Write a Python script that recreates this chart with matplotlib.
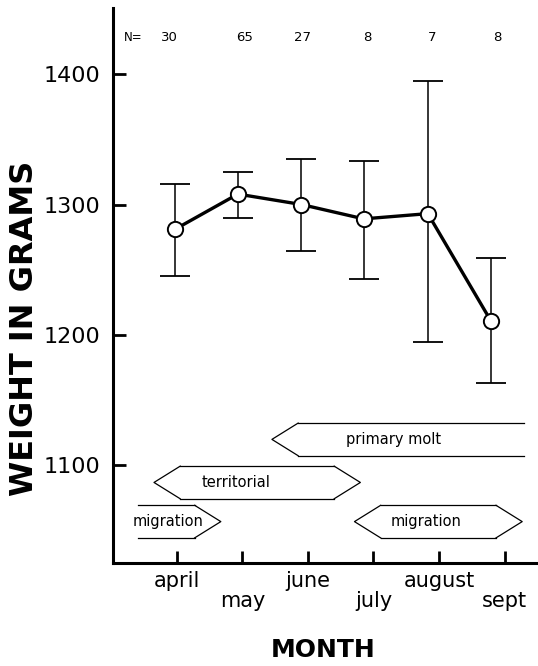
import matplotlib
matplotlib.use("Agg")
import matplotlib.pyplot as plt

# ---- data ----
months = ["april", "may", "june", "july", "august", "sept"]
sample_month = [-0.03, 0.93, 1.90, 2.85, 3.83, 4.79]
mean_weight = [1281, 1308, 1300, 1289, 1293, 1211]
upper = [1316, 1325, 1335, 1333, 1395, 1259]
lower = [1245, 1290, 1264, 1243, 1195, 1163]
n_counts = [30, 65, 27, 8, 7, 8]

periods = ["migration", "territorial", "primary molt", "migration"]
period_start = [-0.60, -0.35, 1.45, 2.71]
period_end = [0.67, 2.80, 5.29, 5.27]
closed_left = [False, True, True, True]
closed_right = [True, True, False, True]
period_row = [1057, 1087, 1120, 1057]

# ---- layout ----
n_label_x = [-0.12, 1.04, 1.92, 2.90, 3.89, 4.89]
period_text_x = [-0.14, 0.91, 3.30, 3.81]
tip = 0.40
half_h = 12.5

fig = plt.figure(figsize=(5.38, 6.66), dpi=100)
ax = fig.add_axes([0.210, 0.1547, 0.789, 0.8333])
ax.set_xlim(-0.976, 5.503)
ax.set_ylim(1025.3, 1450.6)

for s in ["top", "right"]:
    ax.spines[s].set_visible(False)
for s in ["left", "bottom"]:
    ax.spines[s].set_linewidth(2.2)

# error bars
ax.errorbar(sample_month, mean_weight,
            yerr=[[m - l for m, l in zip(mean_weight, lower)],
                  [u - m for m, u in zip(mean_weight, upper)]],
            fmt="none", ecolor="black", elinewidth=1.1, capsize=11, capthick=1.3, zorder=2)
ax.plot(sample_month, mean_weight, color="black", lw=2.4, zorder=3)
ax.plot(sample_month, mean_weight, "o", ms=11, mfc="white", mec="black", mew=1.4, zorder=4)

# N labels
ax.text(-0.67, 1428, "N=", fontsize=8.5, ha="center", va="center")
for x, n in zip(n_label_x, n_counts):
    ax.text(x, 1428, str(n), fontsize=9.5, ha="center", va="center")

# period arrows
for name, s, e, cl, cr, yc, tx in zip(periods, period_start, period_end,
                                     closed_left, closed_right, period_row, period_text_x):
    top = yc + half_h
    bot = yc - half_h
    xl = s + tip if cl else s
    xr = e - tip if cr else e
    ax.plot([xl, xr], [top, top], color="black", lw=0.9)
    ax.plot([xl, xr], [bot, bot], color="black", lw=0.9)
    if cl:
        ax.plot([xl, s, xl], [top, yc, bot], color="black", lw=0.9)
    if cr:
        ax.plot([xr, e, xr], [top, yc, bot], color="black", lw=0.9)
    ax.text(tx, yc, name, fontsize=10.5, ha="center", va="center")

# axes ticks
ax.set_yticks([1100, 1200, 1300, 1400])
ax.set_yticklabels(["1100", "1200", "1300", "1400"], fontsize=16)
ax.tick_params(axis="y", direction="in", length=9, width=2, pad=9)
ax.set_xticks(range(len(months)))
ax.set_xticklabels([m if i % 2 == 0 else "\n" + m for i, m in enumerate(months)],
                   fontsize=15, linespacing=1.0)
ax.tick_params(axis="x", direction="in", length=9, width=2, pad=6)

fig.text(0.045, 0.507, "WEIGHT IN GRAMS", rotation=90, fontsize=23, fontweight="bold",
         ha="center", va="center")
fig.text(0.600, 0.024, "MONTH", fontsize=18, fontweight="bold", ha="center", va="center")

fig.savefig("out.png", dpi=100)
